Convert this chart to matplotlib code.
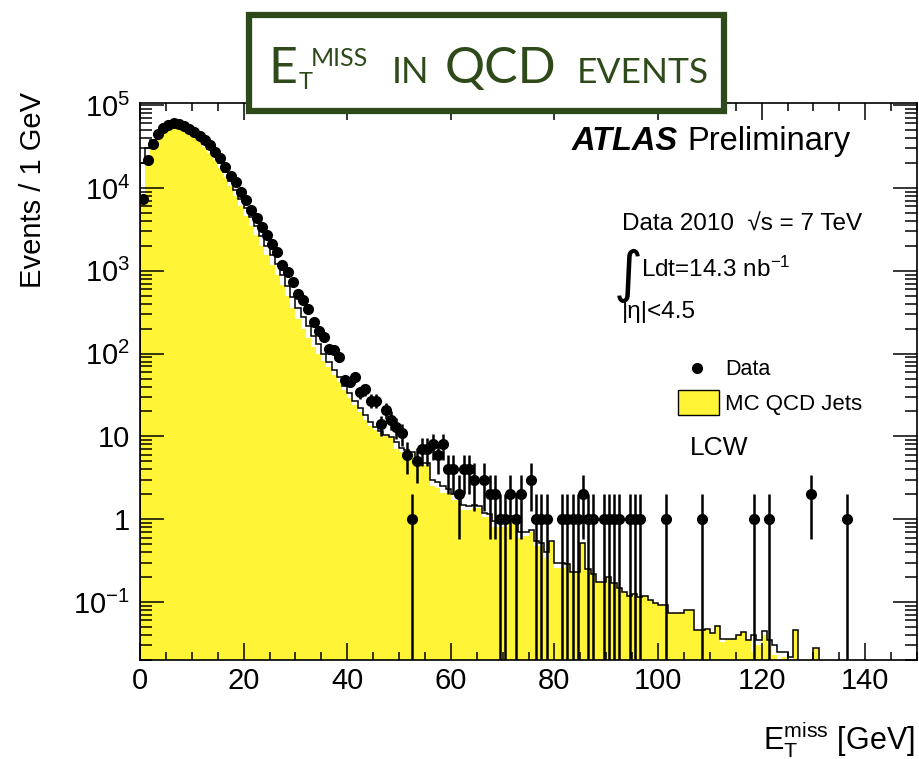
import matplotlib
matplotlib.use('Agg')
import matplotlib.pyplot as plt
import numpy as np
from matplotlib.patches import Rectangle
from matplotlib.lines import Line2D
from matplotlib.ticker import FixedLocator, FixedFormatter, LogLocator, MultipleLocator, NullFormatter

plt.rcParams['font.family'] = ['Liberation Sans', 'DejaVu Sans']
plt.rcParams['mathtext.fontset'] = 'custom'
plt.rcParams['mathtext.rm'] = 'Liberation Sans'
plt.rcParams['mathtext.it'] = 'Liberation Sans:italic'
plt.rcParams['mathtext.bf'] = 'Liberation Sans:bold'

W, H = 919, 759

# data, 1 GeV bins starting at 0 GeV (bins 0..80)
data_counts = [
    7300, 21800, 33700, 44600, 52400, 57000, 60000, 59500, 56000, 52000,
    47500, 42600, 38000, 33000, 27500, 22800, 17900, 14000, 11700, 8900,
    7100, 5400, 4300, 3400, 2700, 2100, 1700, 1180, 970, 740,
    530, 440, 350, 240, 190, 160, 115, 110, 91, 48,
    46, 52, 34, 37, 27, 27, 14, 21, 16, 13,
    11, 6, 1, 5, 7, 7, 8, 6, 8, 4,
    4, 2, 4, 4, 3, 0, 3, 2, 2, 1,
    1, 2, 1, 2, 0, 3, 1, 1, 1, 0,
    0,
]
# sparse data tail (bin index, count)
tail_bins = [81, 82, 83, 84, 85, 86, 87, 89, 90, 91, 92, 94, 95, 96, 101, 108, 118, 121, 129, 136]
tail_counts = [1, 1, 1, 1, 2, 1, 1, 1, 1, 1, 1, 1, 1, 1, 1, 1, 1, 1, 2, 1]

# MC QCD jets, yellow filled (bins 0..130)
mc_fill = [
    7500, 21000, 34000, 44000, 50000, 54000, 55000, 54000, 50000, 46000,
    41000, 36000, 31000, 26500, 22000, 17500, 13500, 10500, 8000, 6000,
    4600, 3500, 2700, 2000, 1550, 1180, 900, 680, 500, 360,
    260, 200, 155, 120, 100, 82, 68, 55, 45, 36,
    29, 24, 19.5, 16, 13.5, 12, 11, 10, 9.8, 7.0,
    6.4, 6.4, 6.2, 4.6, 4.5, 4.4, 2.5, 2.4, 2.1, 2.06,
    1.7, 1.7, 1.3, 1.28, 1.35, 1.35, 1.06, 1.06, 0.8, 0.8,
    0.8, 1.06, 1.06, 0.6, 0.62, 0.7, 0.48, 0.48, 0.34, 0.53,
    0.26, 0.26, 0.29, 0.23, 0.23, 0.51, 0.25, 0.22, 0.175, 0.175,
    0.2, 0.17, 0.146, 0.133, 0.12, 0.127, 0.115, 0.12, 0.105, 0.097,
    0.092, 0.092, 0.073, 0.073, 0.073, 0.08, 0.08, 0.046, 0.046, 0.048,
    0.042, 0.052, 0.033, 0.036, 0.036, 0.04, 0.044, 0.035, 0.025, 0.03,
    0.04, 0.03, 0.023, 0, 0.0215, 0, 0.046, 0, 0, 0,
    0.028,
]
# black outline histogram (bins 0..130)
mc_line = [
    20000, 30000, 38000, 46000, 52000, 56000, 58000, 57000, 53000, 49000,
    44000, 39000, 34000, 29500, 24500, 20000, 15500, 12000, 9500, 7300,
    5700, 4400, 3500, 2600, 2000, 1550, 1200, 880, 650, 480,
    360, 280, 215, 165, 130, 100, 80, 64, 52, 41,
    33, 27, 22, 18, 15, 13, 11.5, 10.5, 9.8, 8.5,
    7.2, 6.8, 6.4, 5.2, 4.8, 4.8, 3.0, 2.8, 2.5, 2.3,
    2.0, 1.9, 1.5, 1.45, 1.5, 1.45, 1.2, 1.15, 0.95, 0.9,
    0.9, 1.1, 1.1, 0.7, 0.7, 0.75, 0.55, 0.52, 0.4, 0.55,
    0.3, 0.3, 0.29, 0.23, 0.23, 0.51, 0.25, 0.22, 0.175, 0.175,
    0.2, 0.17, 0.146, 0.133, 0.12, 0.127, 0.115, 0.12, 0.105, 0.097,
    0.092, 0.092, 0.073, 0.073, 0.073, 0.08, 0.08, 0.046, 0.046, 0.048,
    0.042, 0.052, 0.036, 0.036, 0.036, 0.04, 0.044, 0.035, 0.04, 0.035,
    0.045, 0.035, 0.03, 0.025, 0.025, 0.022, 0.046, 0, 0, 0,
    0.028,
]

y_ticks = [0.1, 1, 10, 100, 1000, 10000, 100000]
y_labels = [r'$\mathregular{10^{-1}}$', '1', '10', r'$\mathregular{10^{2}}$',
            r'$\mathregular{10^{3}}$', r'$\mathregular{10^{4}}$', r'$\mathregular{10^{5}}$']

yellow = '#fff536'
green = '#2f4a1a'


def fx(px):
    return px / W


def fy(py):
    return 1 - py / H


fig = plt.figure(figsize=(W / 100, H / 100), dpi=100)
ax = fig.add_axes([fx(140), fy(660), fx(917) - fx(140), fy(103) - fy(660)])
ax.set_yscale('log')

floor = 1e-3
fill_vals = np.array(mc_fill, dtype=float)
line_vals = np.array(mc_line, dtype=float)
mc_edges = np.arange(len(fill_vals) + 1)
ax.stairs(np.where(fill_vals > 0, fill_vals, floor), mc_edges, baseline=floor,
          fill=True, color=yellow, zorder=1)
ax.stairs(np.where(line_vals > 0, line_vals, floor), mc_edges, baseline=floor,
          color='black', lw=1.1, zorder=2)

# data points with sqrt(N) errors
x = np.concatenate([np.arange(len(data_counts)), tail_bins]) + 0.5
n = np.array(list(data_counts) + list(tail_counts), dtype=float)
keep = n > 0
x, n = x[keep], n[keep]
err = np.sqrt(n)
lo = np.minimum(err, n - floor)
ax.errorbar(x, n, yerr=[lo, err], fmt='o', color='black', ms=7,
            elinewidth=1.8, capsize=0, zorder=3)

ax.set_xlim(0, 150)
ax.set_ylim(0.02, 1.06e5)
ax.xaxis.set_major_locator(MultipleLocator(20))
ax.xaxis.set_minor_locator(MultipleLocator(5))
ax.yaxis.set_major_locator(FixedLocator(y_ticks))
ax.yaxis.set_major_formatter(FixedFormatter(y_labels))
ax.yaxis.set_minor_locator(LogLocator(base=10, subs=range(2, 10), numticks=20))
ax.yaxis.set_minor_formatter(NullFormatter())
ax.tick_params(axis='both', which='both', direction='in', top=True, right=True,
               width=1.1, colors='black', labelsize=21)
ax.tick_params(axis='x', which='major', length=12, pad=5)
ax.tick_params(axis='x', which='minor', length=6)
ax.tick_params(axis='y', which='major', length=17, pad=7)
ax.tick_params(axis='y', which='minor', length=8.5)
for s in ax.spines.values():
    s.set_linewidth(1.2)

# axis titles
fig.text(fx(33), fy(92), 'Events / 1 GeV', rotation=90, ha='center', va='top', size=21)
fig.text(fx(915), fy(750), r'E$_{\mathregular{T}}^{\mathregular{miss}}$ [GeV]',
         ha='right', va='baseline', size=22)

# ATLAS label and info
fig.text(fx(572), fy(150), 'ATLAS', size=23.5, weight='bold', style='italic', va='baseline')
fig.text(fx(687), fy(150), 'Preliminary', size=23.5, va='baseline')
fig.text(fx(622), fy(231), 'Data 2010  \u221as = 7 TeV', size=17.5, va='baseline')
fig.text(fx(614), fy(291), '\u222b', size=40, va='baseline', family='DejaVu Sans')
fig.text(fx(641), fy(277), r'Ldt=14.3 nb$^{\mathregular{-1}}$', size=17.5, va='baseline')
fig.text(fx(622), fy(318), '|\u03b7|<4.5', size=17.5, va='baseline')

# legend
fig.add_artist(Line2D([fx(697)], [fy(368)], marker='o', color='black', ms=7,
                      transform=fig.transFigure))
fig.text(fx(725), fy(375), 'Data', size=15.5, va='baseline')
fig.add_artist(Rectangle((fx(678), fy(415)), fx(719) - fx(678), fy(390) - fy(415),
                         transform=fig.transFigure, facecolor=yellow,
                         edgecolor='black', lw=1))
fig.text(fx(725), fy(410), 'MC QCD Jets', size=16, va='baseline')
fig.text(fx(690), fy(455), 'LCW', size=19, va='baseline')

# title box
fig.add_artist(Rectangle((fx(249), fy(111)), fx(724) - fx(249), fy(15) - fy(111),
                         transform=fig.transFigure, facecolor='white',
                         edgecolor=green, lw=4.5, zorder=10))
tkw = dict(va='baseline', color=green, family='Lato', zorder=11)
fig.text(fx(268), fy(83), 'E', size=36, **tkw)
fig.text(fx(299), fy(89), 'T', size=17, **tkw)
fig.text(fx(311), fy(66), 'MISS', size=18, **tkw)
fig.text(fx(392), fy(83), 'IN', size=26, **tkw)
fig.text(fx(445), fy(83), 'QCD', size=36, **tkw)
fig.text(fx(577), fy(83), 'EVENTS', size=25.5, **tkw)

fig.savefig('out.png', dpi=100)
